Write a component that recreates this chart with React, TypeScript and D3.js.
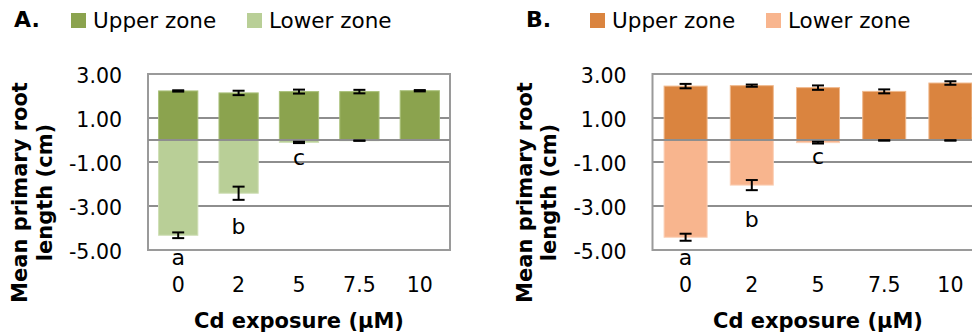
import React from "react";
import * as d3 from "d3";

const categories = ["0", "2", "5", "7.5", "10"];
const yTicks = [3, 1, -1, -3, -5];
const tickLabels = ["3.00", "1.00", "-1.00", "-3.00", "-5.00"];

const upperA = [2.23, 2.14, 2.2, 2.2, 2.24];
const upperAErr = [0.03, 0.1, 0.09, 0.08, 0.03];
const lowerA = [-4.33, -2.42, -0.11, -0.03, 0];
const lowerAErr = [0.13, 0.3, 0.03, 0.005, 0];
const lettersA = ["a", "b", "c", "", ""];
const letterAnchorA = [-5.68, -4.27, -1.14, 0, 0];

const upperB = [2.45, 2.47, 2.38, 2.21, 2.59];
const upperBErr = [0.1, 0.05, 0.1, 0.09, 0.08];
const lowerB = [-4.42, -2.05, -0.12, -0.02, -0.02];
const lowerBErr = [0.16, 0.23, 0.04, 0.005, 0.005];
const lettersB = ["a", "b", "c", "", ""];
const letterAnchorB = [-5.68, -3.94, -1.09, 0, 0];

const FONT = "'DejaVu Sans', Verdana, sans-serif";
const GRID = "#8e8e8e";

type PanelProps = {
  label: string;
  left: number;
  right: number;
  labelX: number;
  legendX: number;
  upper: number[];
  upperErr: number[];
  lower: number[];
  lowerErr: number[];
  letters: string[];
  letterAnchor: number[];
  colors: { upper: string; lower: string; upperEdge: string; lowerEdge: string };
};

const TOP = 74;
const BOTTOM = 250;

function Panel(p: PanelProps) {
  const x = d3
    .scaleBand<string>()
    .domain(categories)
    .range([p.left, p.right])
    .paddingInner(0.35)
    .paddingOuter(0.175);
  const y = d3.scaleLinear().domain([-5, 3]).range([BOTTOM, TOP]);
  const bw = x.bandwidth();
  const cap = 6;
  const cx = (c: string) => (x(c) as number) + bw / 2;
  const midY = (TOP + BOTTOM) / 2 + 30.5;

  const errBar = (c: string, v: number, e: number, key: string) =>
    e > 0 ? (
      <g key={key} stroke="#000" strokeWidth={2}>
        <line x1={cx(c)} x2={cx(c)} y1={y(v - e)} y2={y(v + e)} />
        <line x1={cx(c) - cap} x2={cx(c) + cap} y1={y(v - e)} y2={y(v - e)} />
        <line x1={cx(c) - cap} x2={cx(c) + cap} y1={y(v + e)} y2={y(v + e)} />
      </g>
    ) : null;

  return (
    <g fontFamily={FONT}>
      {/* legend */}
      <text x={p.labelX} y={27} fontSize={22} fontWeight="bold" fill="#000">
        {p.label}
      </text>
      <rect x={p.legendX} y={13} width={15} height={15} fill={p.colors.upper} />
      <text x={p.legendX + 22} y={27.5} fontSize={21.5} fill="#000">
        Upper zone
      </text>
      <rect x={p.legendX + 176} y={13} width={15} height={15} fill={p.colors.lower} />
      <text x={p.legendX + 198} y={27.5} fontSize={21.5} fill="#000">
        Lower zone
      </text>

      {/* gridlines */}
      {yTicks.map((t) => (
        <line key={t} x1={p.left} x2={p.right} y1={y(t)} y2={y(t)} stroke={GRID} strokeWidth={2} />
      ))}
      <rect
        x={p.left}
        y={TOP}
        width={p.right - p.left}
        height={BOTTOM - TOP}
        fill="none"
        stroke="#9a9a9a"
        strokeWidth={2}
      />

      {/* bars */}
      {categories.map((c, i) => (
        <g key={c}>
          <rect
            x={x(c)}
            y={y(p.upper[i])}
            width={bw}
            height={y(0) - y(p.upper[i])}
            fill={p.colors.upper}
            stroke={p.colors.upperEdge}
            strokeWidth={1}
          />
          {p.lower[i] < 0 && (
            <rect
              x={x(c)}
              y={y(0)}
              width={bw}
              height={y(p.lower[i]) - y(0)}
              fill={p.colors.lower}
              stroke={p.colors.lowerEdge}
              strokeWidth={1}
            />
          )}
        </g>
      ))}
      <line x1={p.left} x2={p.right} y1={y(0)} y2={y(0)} stroke={GRID} strokeWidth={2} />

      {/* error bars */}
      {categories.map((c, i) => errBar(c, p.upper[i], p.upperErr[i], "u" + c))}
      {categories.map((c, i) => errBar(c, p.lower[i], p.lowerErr[i], "l" + c))}

      {/* significance letters */}
      {categories.map((c, i) =>
        p.letters[i] ? (
          <text key={"t" + c} x={cx(c)} y={y(p.letterAnchor[i])} textAnchor="middle" fontSize={22} fill="#000">
            {p.letters[i]}
          </text>
        ) : null
      )}

      {/* y tick labels */}
      {yTicks.map((t, i) => (
        <text key={t} x={p.left - 26} y={y(t) + 8.5} textAnchor="end" fontSize={20.5} fill="#000">
          {tickLabels[i]}
        </text>
      ))}

      {/* x tick labels */}
      {categories.map((c) => (
        <text key={"x" + c} x={cx(c)} y={292} textAnchor="middle" fontSize={20.5} fill="#000">
          {c}
        </text>
      ))}

      {/* axis titles */}
      <text
        x={(p.left + p.right) / 2}
        y={328}
        textAnchor="middle"
        fontSize={21}
        fontWeight="bold"
        fill="#000"
      >
        Cd exposure (μM)
      </text>
      <g transform={`translate(${p.left - 121},${midY}) rotate(-90)`}>
        <text x={0} y={0} textAnchor="middle" fontSize={21} fontWeight="bold" fill="#000">
          Mean primary root
        </text>
      </g>
      <g transform={`translate(${p.left - 96.5},${midY}) rotate(-90)`}>
        <text x={0} y={0} textAnchor="middle" fontSize={21} fontWeight="bold" fill="#000">
          length (cm)
        </text>
      </g>
    </g>
  );
}

export default function App() {
  return (
    <svg
      width={972}
      height={335}
      viewBox="0 0 972 335"
      style={{ position: "absolute", left: 0, top: 0, background: "#fff" }}
    >
      <rect x={0} y={0} width={972} height={335} fill="#fff" />
      <Panel
        label="A."
        left={148}
        right={450}
        labelX={14}
        legendX={71}
        upper={upperA}
        upperErr={upperAErr}
        lower={lowerA}
        lowerErr={lowerAErr}
        letters={lettersA}
        letterAnchor={letterAnchorA}
        colors={{ upper: "#8ba34e", lower: "#b9cf97", upperEdge: "#a9c07a", lowerEdge: "#cfdfb6" }}
      />
      <Panel
        label="B."
        left={652.5}
        right={983.5}
        labelX={526}
        legendX={590}
        upper={upperB}
        upperErr={upperBErr}
        lower={lowerB}
        lowerErr={lowerBErr}
        letters={lettersB}
        letterAnchor={letterAnchorB}
        colors={{ upper: "#da843f", lower: "#f8b58e", upperEdge: "#f0b98d", lowerEdge: "#fbd0b6" }}
      />
    </svg>
  );
}
